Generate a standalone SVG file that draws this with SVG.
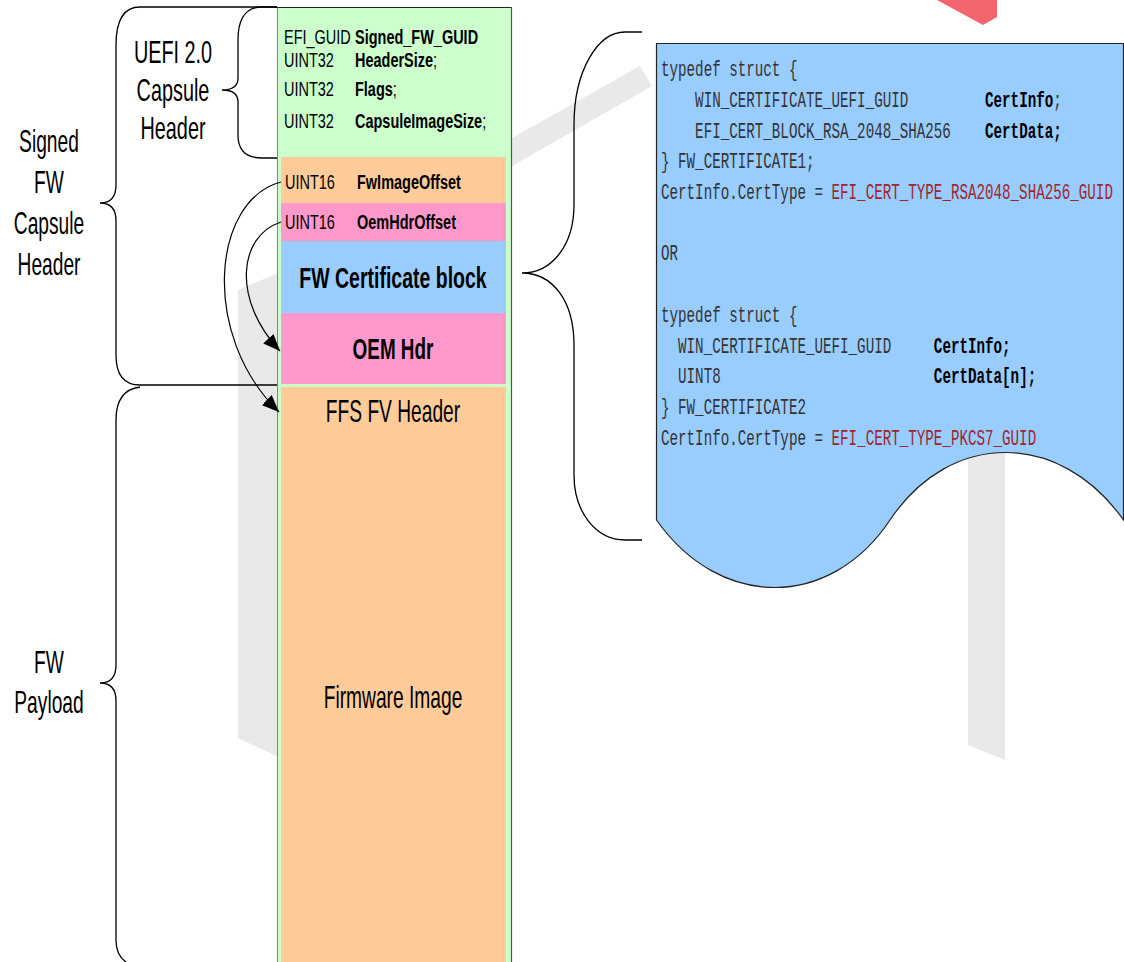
<svg xmlns="http://www.w3.org/2000/svg" width="1124" height="962" viewBox="0 0 1124 962">
<style>
.lbl{font-family:"Liberation Sans",Arial,sans-serif;font-size:32px;fill:#000}
.sm{font-family:"Liberation Sans",Arial,sans-serif;font-size:21px;fill:#000}
.b{font-weight:bold}
.mid{text-anchor:middle}
.code{font-family:"Liberation Mono","Courier New",monospace;font-size:22px;fill:#333}
.red{fill:#a0262c}
.brace{fill:none;stroke:#000;stroke-width:1.3}
.conn{fill:none;stroke:#000;stroke-width:1.2}
.wm{fill:#e9e9e9}
</style>
<defs>
<marker id="arr" markerUnits="userSpaceOnUse" markerWidth="18" markerHeight="14" refX="17" refY="7" orient="auto">
<path d="M0,0 L17,7 L0,14 Z" fill="#000"/>
</marker>
</defs>
<rect width="1124" height="962" fill="#fff"/>
<g id="watermark">
<polygon class="wm" points="238,290 278,273 278,757 238,738"/>
<polygon class="wm" points="512,138 640,66 652,86 512,166"/>
<polygon class="wm" points="968,455 1005,450 1005,760 968,745"/>
<polygon points="937,0 997,0 997,17 983,25" fill="#f2646e"/>
</g>
<g id="braces">
<path class="brace" d="M277,7 H262 C246,7 238,18 238,40 V78 C238,86 232,90 222,90 C232,90 238,94 238,102 V135 C238,150 246,158 262,158 H281"/>
<path class="brace" d="M277,7 H140 C124,7 116,20 116,45 V185 C116,197 110,203 100,203 C110,203 116,209 116,221 V355 C116,375 124,385 140,385 H283"/>
<path class="brace" d="M140,387 C124,389 116,400 116,420 V665 C116,677 110,683 100,683 C110,683 116,689 116,701 V940 C116,952 120,958 126,962"/>
<path class="brace" d="M642,32 H625 C598,32 574,70 574,125 V205 C574,245 552,273 522,273 C552,273 574,300 574,345 V475 C574,512 596,540 625,540 H642"/>
</g>
<g id="column">
<rect x="277.5" y="7.5" width="234" height="960" fill="#ccffcc" stroke="#7a8a7a" stroke-width="1"/>
<line x1="277" y1="7.5" x2="512" y2="7.5" stroke="#222" stroke-width="1.2"/>
<line x1="511.5" y1="7" x2="511.5" y2="962" stroke="#555" stroke-width="1.2"/>
</g>
<g id="capsule-header">
<text class="sm" transform="translate(284,44) scale(0.69,1)">EFI_GUID</text>
<text class="sm b" transform="translate(355,44) scale(0.69,1)">Signed_FW_GUID</text>
<text class="sm" transform="translate(284,67) scale(0.69,1)">UINT32</text>
<text class="sm" transform="translate(355,67) scale(0.69,1)"><tspan class="b">HeaderSize</tspan>;</text>
<text class="sm" transform="translate(284,96) scale(0.69,1)">UINT32</text>
<text class="sm" transform="translate(355,96) scale(0.69,1)"><tspan class="b">Flags</tspan>;</text>
<text class="sm" transform="translate(284,128) scale(0.69,1)">UINT32</text>
<text class="sm" transform="translate(355,128) scale(0.69,1)"><tspan class="b">CapsuleImageSize</tspan>;</text>
</g>
<g id="fwimageoffset">
<rect x="281" y="157" width="225" height="46" fill="#ffcc99"/>
<text class="sm" transform="translate(285,189) scale(0.69,1)">UINT16</text>
<text class="sm b" transform="translate(357,189) scale(0.69,1)">FwImageOffset</text>
</g>
<g id="oemhdroffset">
<rect x="281" y="203" width="225" height="38" fill="#ff99cc"/>
<text class="sm" transform="translate(285,229) scale(0.69,1)">UINT16</text>
<text class="sm b" transform="translate(357,229) scale(0.69,1)">OemHdrOffset</text>
</g>
<g id="fw-cert-block">
<rect x="281" y="241" width="225" height="72" fill="#99ccff"/>
<text class="lbl b mid" style="font-size:30px" transform="translate(393,288) scale(0.65,1)">FW Certificate block</text>
</g>
<g id="oem-hdr">
<rect x="281" y="313" width="225" height="71" fill="#ff99cc"/>
<text class="lbl b mid" style="font-size:30px" transform="translate(393,359) scale(0.63,1)">OEM Hdr</text>
</g>
<g id="ffs-payload">
<rect x="281" y="387" width="225" height="580" fill="#ffcc99"/>
<text class="lbl mid" transform="translate(393,422) scale(0.6,1)">FFS FV Header</text>
<text class="lbl mid" transform="translate(393,708) scale(0.6,1)">Firmware Image</text>
</g>
<g id="labels">
<text class="lbl mid" transform="translate(173,63) scale(0.62,1)">UEFI 2.0</text>
<text class="lbl mid" transform="translate(173,101) scale(0.62,1)">Capsule</text>
<text class="lbl mid" transform="translate(173,139) scale(0.62,1)">Header</text>
<text class="lbl mid" transform="translate(49,152) scale(0.6,1)">Signed</text>
<text class="lbl mid" transform="translate(49,193) scale(0.6,1)">FW</text>
<text class="lbl mid" transform="translate(49,234) scale(0.6,1)">Capsule</text>
<text class="lbl mid" transform="translate(49,275) scale(0.6,1)">Header</text>
<text class="lbl mid" transform="translate(49,673) scale(0.6,1)">FW</text>
<text class="lbl mid" transform="translate(49,713) scale(0.6,1)">Payload</text>
</g>
<g id="connectors">
<path class="conn" d="M281,182 C212,200 200,335 279,412" marker-end="url(#arr)"/>
<path class="conn" d="M281,222 C238,236 232,300 280,351" marker-end="url(#arr)"/>
</g>
<g id="certificate">
<path d="M656.5,43.5 H1123.5 V520 C1060,430 950,430 890,520 C830,610 720,610 656.5,520 Z" fill="#99ccff" stroke="#222" stroke-width="1.2"/>
<g transform="translate(661,0) scale(0.646,1)">
<text class="code" x="0" y="76">typedef struct {</text>
<text class="code" y="107"><tspan x="52.8">WIN_CERTIFICATE_UEFI_GUID</tspan><tspan x="501.6" font-weight="bold" fill="#000">CertInfo</tspan><tspan>;</tspan></text>
<text class="code" y="138"><tspan x="52.8">EFI_CERT_BLOCK_RSA_2048_SHA256</tspan><tspan x="501.6" font-weight="bold" fill="#000">CertData;</tspan></text>
<text class="code" x="0" y="168">} FW_CERTIFICATE1;</text>
<text class="code" x="0" y="199">CertInfo.CertType = <tspan class="red">EFI_CERT_TYPE_RSA2048_SHA256_GUID</tspan></text>
<text class="code" x="0" y="260">OR</text>
<text class="code" x="0" y="322">typedef struct {</text>
<text class="code" y="353"><tspan x="26.4">WIN_CERTIFICATE_UEFI_GUID</tspan><tspan x="422.4" font-weight="bold" fill="#000">CertInfo;</tspan></text>
<text class="code" y="383"><tspan x="26.4">UINT8</tspan><tspan x="422.4" font-weight="bold" fill="#000">CertData[n];</tspan></text>
<text class="code" x="0" y="414">} FW_CERTIFICATE2</text>
<text class="code" x="0" y="445">CertInfo.CertType = <tspan class="red">EFI_CERT_TYPE_PKCS7_GUID</tspan></text>
</g>
</g>
</svg>
